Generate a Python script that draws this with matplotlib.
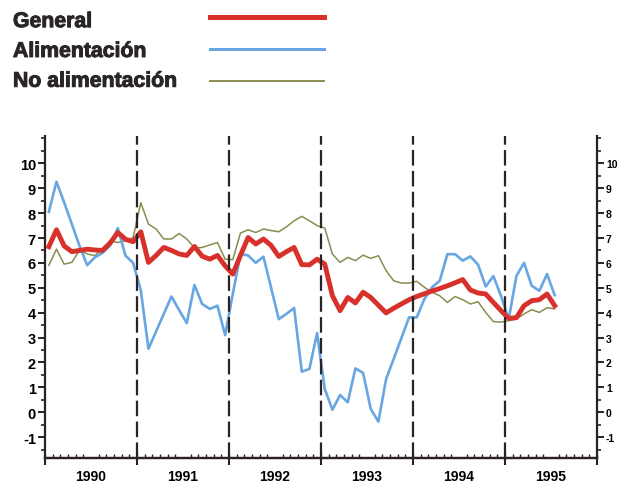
import matplotlib
matplotlib.use('Agg')
import matplotlib.pyplot as plt
import matplotlib.patheffects as pe
import numpy as np
from matplotlib.lines import Line2D

# monthly values, Jan 1990 onwards
general = [6.65, 7.33, 6.68, 6.45, 6.5, 6.55, 6.52, 6.5, 6.8, 7.22, 6.95, 6.85,
           7.25, 6.02, 6.3, 6.62, 6.5, 6.36, 6.3, 6.66, 6.27, 6.15, 6.3, 5.88,
           5.55, 6.3, 7.02, 6.76, 6.96, 6.7, 6.26, 6.45, 6.62, 5.93, 5.92, 6.15,
           5.95, 4.68, 4.08, 4.61, 4.39, 4.82, 4.61, 4.3, 3.99, 4.18, 4.35, 4.52,
           4.65, 4.76, 4.87, 4.97, 5.08, 5.2, 5.33, 4.91, 4.79, 4.75, 4.41, 4.08,
           3.77, 3.8, 4.28, 4.48, 4.52, 4.75, 4.28]
alimentacion = [8.05, 9.26, 8.43, 7.56, 6.69, 5.91, 6.22, 6.4, 6.7, 7.4, 6.29, 6.0,
                4.9, 2.55, 3.25, 3.95, 4.65, 4.1, 3.58, 5.11, 4.35, 4.15, 4.28, 3.1,
                4.75, 6.35, 6.3, 6.0, 6.25, 5.0, 3.74, 3.95, 4.19, 1.63, 1.74, 3.18,
                0.93, 0.1, 0.69, 0.4, 1.76, 1.58, 0.13, -0.38, 1.33, 2.15, 2.98, 3.81,
                3.81, 4.55, 5.02, 5.28, 6.35, 6.35, 6.09, 6.26, 5.93, 5.05, 5.47, 4.67,
                3.73, 5.47, 6.0, 5.08, 4.88, 5.55, 4.7]
no_alimentacion = [5.9, 6.55, 5.95, 6.02, 6.5, 6.36, 6.29, 6.56, 6.89, 6.82, 6.89, 7.02,
                   8.42, 7.56, 7.36, 6.96, 6.96, 7.18, 6.96, 6.6, 6.62, 6.72, 6.82, 6.15,
                   6.13, 7.2, 7.33, 7.22, 7.36, 7.3, 7.25, 7.45, 7.69, 7.87, 7.69, 7.5,
                   7.4, 6.35, 6.02, 6.22, 6.09, 6.31, 6.18, 6.29, 5.69, 5.28, 5.19, 5.19,
                   5.26, 5.02, 4.82, 4.68, 4.41, 4.65, 4.52, 4.35, 4.44, 4.01, 3.64, 3.62,
                   3.68, 3.74, 3.95, 4.12, 4.01, 4.2, 4.15]
years = ['1990', '1991', '1992', '1993', '1994', '1995']
labels = ['General', 'Alimentación', 'No alimentación']

plt.rcParams['font.family'] = 'Liberation Sans'
plt.rcParams['font.weight'] = 'bold'
plt.rcParams['axes.unicode_minus'] = False

ink = '#2b2226'
colors = ['#d8302a', '#68a6e2', '#8a8c50']
widths = [3.5, 1.9, 1.1]

fig = plt.figure(figsize=(6.18, 4.85), dpi=100)
ax = fig.add_axes([0.0728, 0.0536, 0.893, 0.664])

month = np.arange(len(general)) + 0.5
ax.plot(month, no_alimentacion, color=colors[2], lw=widths[2], zorder=3)
ax.plot(month, alimentacion, color=colors[1], lw=widths[1], zorder=4)
ax.plot(month, general, color=colors[0], lw=widths[0], zorder=5)

# year boundaries
for b in range(12, 12 * len(years), 12):
    ax.axvline(b, color=ink, lw=1.6, dashes=(7, 2.4), zorder=6)

ax.set_xlim(0, 12 * len(years))
ax.set_ylim(-1.84, 11.1)

for s in ('left', 'right', 'bottom'):
    ax.spines[s].set_color(ink)
    ax.spines[s].set_linewidth(1.6)
ax.spines['top'].set_visible(False)

ax.set_yticks(range(-1, 11))
ax.set_yticks(np.arange(-1.5, 11.01, 0.5), minor=True)
ax.tick_params(axis='y', which='major', direction='out', length=5, width=1.4,
               color=ink, left=True, right=True, labelleft=True, labelright=True,
               labelsize=10.5, pad=4)
ax.tick_params(axis='y', which='minor', direction='out', length=3, width=1.2,
               color=ink, left=True, right=True)

ax.set_xticks(np.arange(6, 12 * len(years), 12))
ax.set_xticklabels(years)
ax.set_xticks(np.arange(0, 12 * len(years) + 1), minor=True)
ax.tick_params(axis='x', which='major', length=0, labelsize=10, pad=8)
ax.tick_params(axis='x', which='minor', direction='in', length=3, width=1.0,
               color=ink)

sec = ax.secondary_xaxis('bottom')
sec.set_xticks(np.arange(0, 12 * len(years) + 1, 12))
sec.tick_params(direction='out', length=5, width=1.5, color=ink,
                labelbottom=False)
sec.spines['bottom'].set_color(ink)
sec.spines['bottom'].set_linewidth(1.6)

# legend drawn by hand: labels on the left, keys on the right
for k, name in enumerate(labels):
    ty = 0.942 - k * 0.0615
    ly = 0.962 - k * 0.0655
    fig.text(0.021, ty, name, fontsize=15.3, fontweight='bold', va='baseline',
             ha='left', color='#2a2628',
             path_effects=[pe.withStroke(linewidth=0.7, foreground='#2a2628')])
    fig.add_artist(Line2D([0.340, 0.525], [ly, ly], color=colors[k],
                          lw=widths[k] + 0.3 if k else 3.6,
                          transform=fig.transFigure))

# right-hand labels sit at the paper edge in the original; keep them small
fig.canvas.draw()
for tk in ax.yaxis.get_major_ticks():
    tk.set_pad(1.5)
    tk.label2.set_fontsize(7.5)

fig.savefig('out.png', dpi=100, facecolor='white')
